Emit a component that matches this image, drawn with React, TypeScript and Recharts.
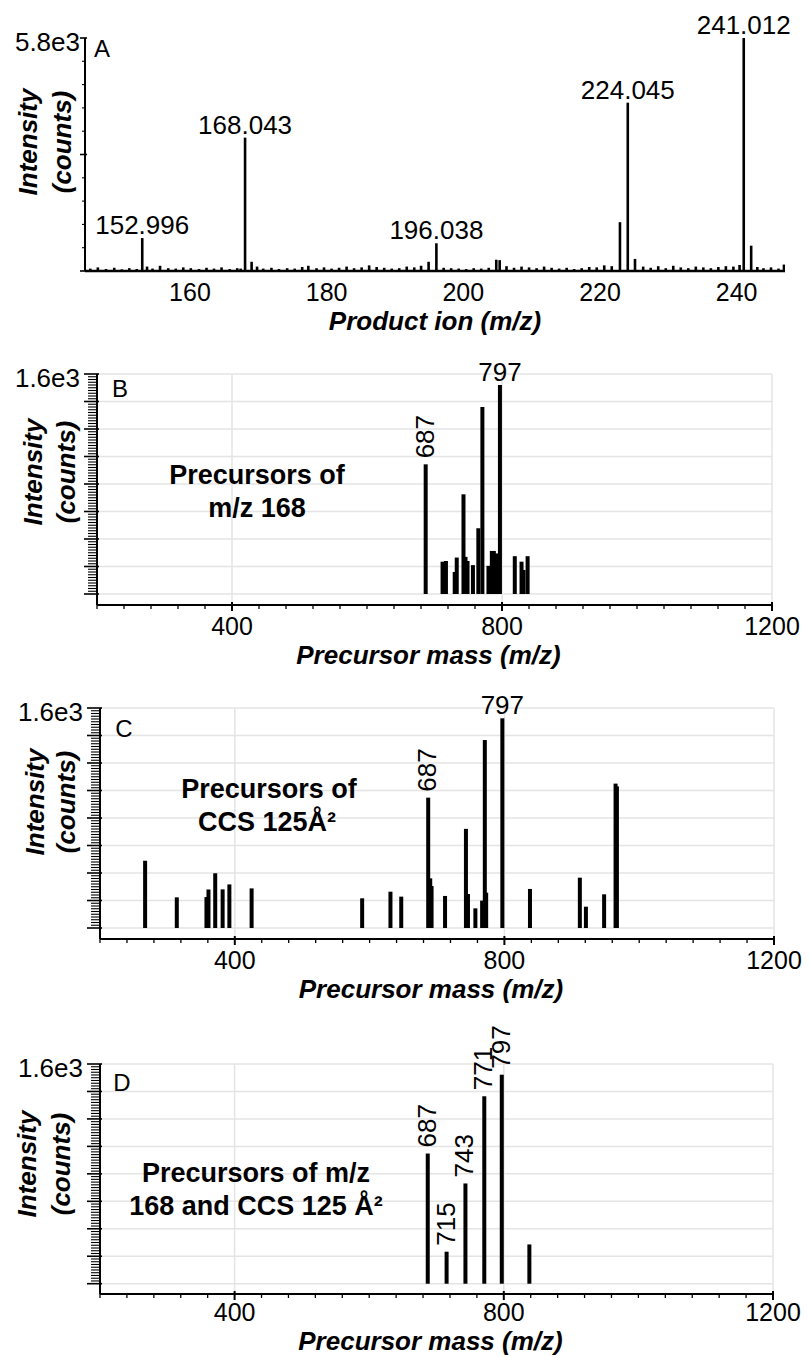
import React from "react"
import { ComposedChart, Bar, XAxis, YAxis, CartesianGrid, LabelList } from "recharts"

const FONT = "'Liberation Sans', Arial, Helvetica, sans-serif"
const INK = "#000"
const GRID = "#e4e4e4"

// ---- panel A: product ion spectrum ----
const productPeakMz = [152.996, 168.043, 196.038, 224.045, 241.012]
const productPeakIntensity = [820, 3320, 690, 4190, 5800]
// unlabelled side peaks [m/z, counts]
const productMinor: [number, number][] = [
  [169.0, 230], [194.9, 230], [204.8, 280], [205.3, 270],
  [222.9, 1215], [225.1, 300], [242.1, 630],
]
// baseline noise [m/z, counts]
const productNoise: [number, number][] = [
  [145.4, 60], [146.5, 90], [147.7, 50], [148.9, 80], [150.0, 40], [151.1, 70],
  [152.2, 50], [153.7, 110], [154.5, 60], [155.6, 130], [156.8, 70], [157.9, 60],
  [159.0, 90], [160.1, 70], [161.3, 50], [162.4, 80], [163.5, 60], [164.6, 90],
  [165.8, 50], [166.9, 70], [167.4, 60], [169.8, 110], [170.7, 60], [171.9, 80],
  [173.0, 50], [174.2, 70], [175.3, 60], [176.4, 100], [177.3, 130], [178.5, 70],
  [179.6, 90], [180.7, 60], [181.8, 80], [182.9, 110], [184.0, 70], [185.1, 90],
  [186.2, 140], [187.3, 100], [188.4, 80], [189.5, 60], [190.6, 70], [191.7, 110],
  [192.8, 90], [193.8, 130], [197.1, 80], [198.2, 70], [199.3, 60], [200.4, 50],
  [201.5, 70], [202.6, 60], [203.7, 80], [206.3, 120], [207.4, 80], [208.5, 110],
  [209.6, 90], [210.7, 70], [211.8, 110], [212.9, 80], [214.0, 60], [215.1, 80],
  [216.2, 50], [217.3, 70], [218.4, 100], [219.5, 90], [220.6, 140], [221.7, 120],
  [226.3, 110], [227.4, 80], [228.5, 120], [229.6, 70], [230.7, 130], [231.8, 90],
  [232.9, 70], [234.0, 110], [235.1, 90], [236.2, 70], [237.3, 100], [238.4, 120],
  [239.5, 110], [240.4, 150], [243.0, 100], [243.9, 70], [245.0, 90], [246.1, 60],
  [246.9, 160],
]
const productTicks = [160, 180, 200, 220, 240]

// ---- panel B: precursors of m/z 168 ----
const precursorMzB = [687, 712, 717, 730, 733, 743, 746, 749, 757, 765, 771, 780, 785, 788, 790, 792, 797, 819, 829, 832, 838]
const precursorIntB = [943, 235, 240, 160, 265, 725, 270, 240, 210, 478, 1360, 205, 313, 313, 125, 295, 1520, 275, 235, 175, 275]
const labelledB = [687, 797]
const rotatedB = [687]

// ---- panel C: precursors of CCS 125 Å² ----
const precursorMzC = [267, 314, 358, 361, 371, 382, 392, 425, 589, 631, 647, 687, 690, 692, 712, 743, 746, 757, 767, 771, 773, 797, 838, 912, 921, 948, 965, 967]
const precursorIntC = [489, 223, 225, 280, 398, 281, 317, 288, 216, 264, 228, 948, 361, 305, 233, 721, 247, 143, 199, 1367, 257, 1525, 284, 366, 155, 245, 1050, 1030]
const labelledC = [687, 797]
const rotatedC = [687]

// ---- panel D: precursors of both ----
const precursorMzD = [687, 715, 743, 771, 797, 838]
const precursorIntD = [948, 233, 730, 1365, 1522, 286]
const labelledD = [687, 715, 743, 771, 797]
const rotatedD = [687, 715, 743, 771, 797]

const massTicks = Array.from({ length: 26 }, (_, i) => 200 + i * 40)
const massGridX = [400, 800, 1200]
const countTicks = Array.from({ length: 81 }, (_, i) => i * 20)
const countGridY = [0, 200, 400, 600, 800, 1000, 1200, 1400, 1600]
const productCountTicks = Array.from({ length: 11 }, (_, i) => i * 580)

type Row = { mz: number; intensity: number; hLabel: string; vLabel: string }

function precursorRows(mz: number[], intensity: number[], labelled: number[], rotated: number[]): Row[] {
  return mz.map((m, i) => ({
    mz: m,
    intensity: intensity[i],
    hLabel: labelled.includes(m) && !rotated.includes(m) ? String(m) : "",
    vLabel: rotated.includes(m) ? String(m) : "",
  }))
}

const productRows: Row[] = [
  ...productPeakMz.map((m, i) => ({ mz: m, intensity: productPeakIntensity[i], hLabel: m.toFixed(3), vLabel: "" })),
  ...productMinor.map(([m, v]) => ({ mz: m, intensity: v, hLabel: "", vLabel: "" })),
  ...productNoise.map(([m, v]) => ({ mz: m, intensity: v, hLabel: "", vLabel: "" })),
].sort((a, b) => a.mz - b.mz)

// stick of fixed width centred on the m/z value (band is narrow where peaks crowd)
function stick(w: number) {
  return (props: any) => {
    const { x, y, width, height } = props
    if (height == null || !isFinite(height)) return null
    return <rect x={x + width / 2 - w / 2} y={y} width={w} height={height} fill={INK} />
  }
}

const HLabel = (props: any) => {
  const { x, y, width, value } = props
  if (!value) return null
  return (
    <text x={x + width / 2} y={y - 4} textAnchor="middle" fontSize={26} fontFamily={FONT} fill={INK}>
      {value}
    </text>
  )
}

const VLabel = (props: any) => {
  const { x, y, width, value } = props
  if (!value) return null
  const cx = x + width / 2 - 1
  const cy = y - 6
  return (
    <text x={cx} y={cy} transform={`rotate(-90 ${cx} ${cy})`} textAnchor="start" dominantBaseline="central"
      fontSize={26} fontFamily={FONT} fill={INK}>
      {value}
    </text>
  )
}

function countTick(majorStep: number, top: number, majorLen: number, minorLen: number, gap: number) {
  return (props: any) => {
    const { x, y, payload } = props
    const v = payload.value
    const major = v % majorStep === 0
    return (
      <g>
        <line x1={x - (major ? majorLen : minorLen)} x2={x + (major ? 2 : 0)} y1={y} y2={y}
          stroke={INK} strokeWidth={major ? 1.6 : 1.1} />
        {v === top && (
          <text x={x - gap} y={y + 4} textAnchor="end" dominantBaseline="central" fontSize={26} fontFamily={FONT} fill={INK}>
            {(v / 1000).toFixed(1)}e3
          </text>
        )}
      </g>
    )
  }
}

function massTick(labelDy: number) {
  return (props: any) => {
    const { x, y, payload } = props
    const v = payload.value
    const major = v % 400 === 0
    return (
      <g>
        <line x1={x} x2={x} y1={major ? y - 3 : y} y2={major ? y + 6 : y + 4} stroke={INK} strokeWidth={major ? 2 : 1.3} />
        {major && (
          <text x={x} y={y + labelDy} textAnchor="middle" dominantBaseline="central" fontSize={25} fontFamily={FONT} fill={INK}>
            {v}
          </text>
        )}
      </g>
    )
  }
}

function productTick(props: any) {
  const { x, y, payload } = props
  return (
    <text x={x} y={y + 21} textAnchor="middle" dominantBaseline="central" fontSize={25} fontFamily={FONT} fill={INK}>
      {payload.value}
    </text>
  )
}

function intensityTitle(x1: number, x2: number, dy: number) {
  return (props: any) => {
    const vb = props.viewBox || {}
    const cy = (vb.y || 0) + dy
    return (
      <g fontFamily={FONT} fontSize={26} fontWeight="bold" fontStyle="italic" fill={INK}>
        <text x={x1} y={cy} transform={`rotate(-90 ${x1} ${cy})`} textAnchor="middle" dominantBaseline="central">Intensity</text>
        <text x={x2} y={cy} transform={`rotate(-90 ${x2} ${cy})`} textAnchor="middle" dominantBaseline="central">(counts)</text>
      </g>
    )
  }
}

function massTitle(text: string, dy: number, dx: number) {
  return (props: any) => {
    const vb = props.viewBox || {}
    return (
      <text x={(vb.x || 0) + (vb.width || 0) / 2 + dx} y={(vb.y || 0) + dy} textAnchor="middle" dominantBaseline="central"
        fontFamily={FONT} fontSize={26} fontWeight="bold" fontStyle="italic" fill={INK}>
        {text}
      </text>
    )
  }
}

type PanelProps = {
  top: number
  height: number
  marginTop: number
  marginRight: number
  yWidth: number
  xHeight: number
  yMin: number
  rows: Row[]
  labelDy: number
  titleDy: number
  title: [number, number, number]
}

function PrecursorPanel(p: PanelProps) {
  return (
    <div style={{ position: "absolute", left: 0, top: p.top }}>
      <ComposedChart width={809} height={p.height} data={p.rows}
        margin={{ top: p.marginTop, right: p.marginRight, bottom: 0, left: 0 }} style={{ overflow: "visible" }}>
        <CartesianGrid stroke={GRID} strokeWidth={1.5} horizontalValues={countGridY} verticalValues={massGridX} />
        <XAxis dataKey="mz" type="number" domain={[200, 1200]} allowDataOverflow ticks={massTicks} interval={0}
          height={p.xHeight} tickLine={false} tickSize={0} tickMargin={0} axisLine={{ stroke: INK, strokeWidth: 2 }}
          tick={massTick(p.labelDy)} label={{ content: massTitle("Precursor mass (m/z)", p.titleDy, -6) }} />
        <YAxis type="number" domain={[p.yMin, 1600]} allowDataOverflow ticks={countTicks} interval={0}
          width={p.yWidth} tickLine={false} tickSize={0} tickMargin={0} axisLine={{ stroke: INK, strokeWidth: 2 }}
          tick={countTick(200, 1600, 13, 9, 17)} label={{ content: intensityTitle(...p.title) }} />
        <Bar dataKey="intensity" fill={INK} shape={stick(4)} isAnimationActive={false}>
          <LabelList dataKey="hLabel" content={HLabel} />
          <LabelList dataKey="vLabel" content={VLabel} />
        </Bar>
      </ComposedChart>
    </div>
  )
}

const notes = [
  { x: 102, y: 48, size: 24, bold: false, text: "A" },
  { x: 120, y: 388, size: 24, bold: false, text: "B" },
  { x: 124, y: 728, size: 24, bold: false, text: "C" },
  { x: 122, y: 1082, size: 24, bold: false, text: "D" },
  { x: 257, y: 475, size: 27, bold: true, text: "Precursors of" },
  { x: 257, y: 508, size: 27, bold: true, text: "m/z 168" },
  { x: 269, y: 789, size: 27, bold: true, text: "Precursors of" },
  { x: 267, y: 822, size: 27, bold: true, text: "CCS 125Å²" },
  { x: 256, y: 1173, size: 27, bold: true, text: "Precursors of m/z" },
  { x: 256, y: 1206, size: 27, bold: true, text: "168 and CCS 125 Å²" },
]

export default function App() {
  return (
    <div style={{ position: "absolute", left: 0, top: 0, width: 809, height: 1357, background: "#fff", fontFamily: FONT }}>
      <div style={{ position: "absolute", left: 0, top: 0 }}>
        <ComposedChart width={809} height={340} data={productRows}
          margin={{ top: 38, right: 24, bottom: 0, left: 0 }} style={{ overflow: "visible" }}>
          <XAxis dataKey="mz" type="number" domain={[144.64, 247.07]} allowDataOverflow ticks={productTicks} interval={0}
            height={69} tickLine={false} tickSize={0} tickMargin={0} axisLine={{ stroke: INK, strokeWidth: 2.5 }}
            tick={productTick} label={{ content: massTitle("Product ion (m/z)", 50, 0) }} />
          <YAxis type="number" domain={[0, 5800]} allowDataOverflow ticks={productCountTicks} interval={0}
            width={85} tickLine={false} tickSize={0} tickMargin={0} axisLine={{ stroke: INK, strokeWidth: 2 }}
            tick={countTick(2900, 5800, 5, 3, 5)} label={{ content: intensityTitle(28, 62, 104) }} />
          <Bar dataKey="intensity" fill={INK} shape={stick(2.6)} isAnimationActive={false}>
            <LabelList dataKey="hLabel" content={HLabel} />
          </Bar>
        </ComposedChart>
      </div>
      <PrecursorPanel top={340} height={340} marginTop={34} marginRight={37} yWidth={97} xHeight={75} yMin={-80}
        rows={precursorRows(precursorMzB, precursorIntB, labelledB, rotatedB)} labelDy={21} titleDy={50} title={[33, 66, 98]} />
      <PrecursorPanel top={680} height={330} marginTop={28} marginRight={35} yWidth={100} xHeight={71} yMin={-80}
        rows={precursorRows(precursorMzC, precursorIntC, labelledC, rotatedC)} labelDy={21} titleDy={50} title={[35, 66, 94]} />
      <PrecursorPanel top={1008} height={349} marginTop={56} marginRight={36} yWidth={100} xHeight={63} yMin={-75}
        rows={precursorRows(precursorMzD, precursorIntD, labelledD, rotatedD)} labelDy={18} titleDy={47} title={[27, 61, 100]} />
      <svg width={809} height={1357} style={{ position: "absolute", left: 0, top: 0, pointerEvents: "none" }}>
        {notes.map((n, i) => (
          <text key={i} x={n.x} y={n.y} textAnchor="middle" dominantBaseline="central" fontFamily={FONT}
            fontSize={n.size} fontWeight={n.bold ? "bold" : "normal"} fill={INK}>
            {n.text}
          </text>
        ))}
      </svg>
    </div>
  )
}
